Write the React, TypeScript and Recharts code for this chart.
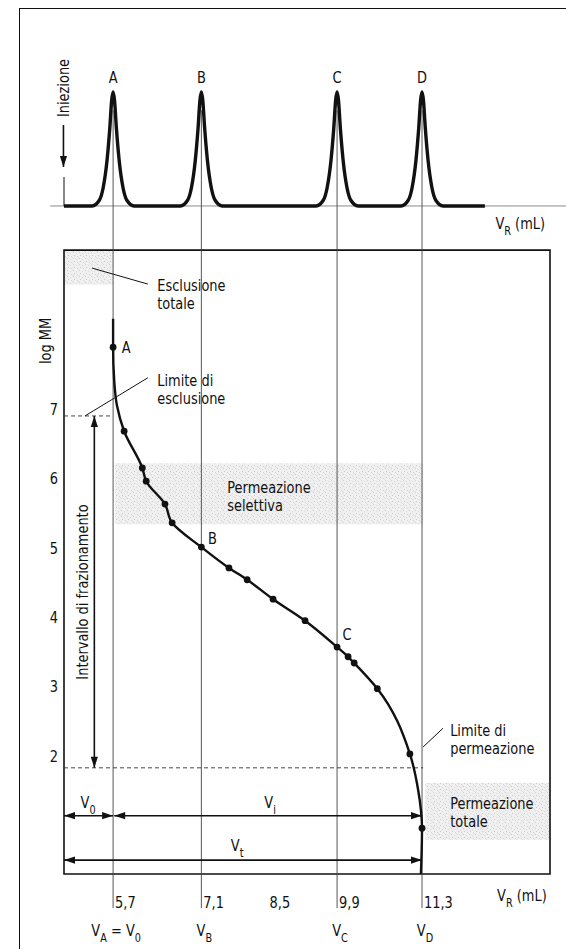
import React from 'react';
import {
  ComposedChart,
  Line,
  XAxis,
  YAxis,
  ReferenceLine,
  ReferenceArea,
  ReferenceDot,
  LabelList,
} from 'recharts';

const FONT = "'Liberation Sans Narrow', 'Arial Narrow', 'DejaVu Sans Condensed', sans-serif";
const INK = '#111';
const FS = 16;
const SQUEEZE = 0.9; // il carattere originale e' un sans condensato

// domini degli assi: V_R (mL), log MM, segnale del cromatogramma
const X_DOMAIN = [4.81, 13.62];
const LOG_DOMAIN = [0.3, 12];
const SIG_DOMAIN = [-5.86, 1.263];
const FRAME_TOP = 9.29;

// asse x
const xTicks = [5.7, 7.3, 8.5, 9.76, 11.3];
const xTickLabels = ['5,7', '7,1', '8,5', '9,9', '11,3'];
const xSubLabels = ['V_A = V_0', 'V_B', '', 'V_C', 'V_D'];
const yTicks = [2, 3, 4, 5, 6, 7];

// cromatogramma (picchi A-D)
const peakNames = ['A', 'B', 'C', 'D'];
const peakVR = [5.7, 7.3, 9.76, 11.3];
const peakOffset = [-0.38, -0.25, -0.18, -0.11, -0.06, -0.025, 0, 0.025, 0.06, 0.11, 0.18, 0.25, 0.38];
const peakHeight = [0, 0.05, 0.16, 0.4, 0.68, 0.93, 1, 0.93, 0.68, 0.4, 0.16, 0.05, 0];
const injectionVR = 4.81;
const chromEndVR = 12.44;

// curva di taratura log MM vs V_R
const curveVR = [5.7, 5.7, 5.72, 5.77, 5.9, 6.23, 6.3, 6.64, 6.77, 7.3, 7.8, 8.13, 8.6, 9.18, 9.76, 9.96, 10.07, 10.49, 11.08, 11.23, 11.3, 11.28];
const curveLogMM = [8.3, 7.89, 7.41, 7.05, 6.68, 6.15, 5.96, 5.63, 5.36, 5.01, 4.71, 4.54, 4.26, 3.95, 3.57, 3.43, 3.34, 2.97, 2.03, 1.51, 0.96, 0.3];

// punti sperimentali
const pointVR = [5.7, 5.9, 6.23, 6.3, 6.64, 6.77, 7.3, 7.8, 8.13, 8.6, 9.18, 9.76, 9.96, 10.07, 10.49, 11.08, 11.3];
const pointLogMM = [7.89, 6.68, 6.15, 5.96, 5.63, 5.36, 5.01, 4.71, 4.54, 4.26, 3.95, 3.57, 3.43, 3.34, 2.97, 2.03, 0.96];
const pointNames = ['A', '', '', '', '', '', 'B', '', '', '', '', 'C', '', '', '', '', ''];

// limiti
const exclusionLimit = 6.9;
const permeationLimit = 1.83;

const chromData: { x: number; s: number }[] = [{ x: injectionVR, s: 0 }];
peakVR.forEach(c => {
  peakOffset.forEach((o, i) => chromData.push({ x: +(c + o).toFixed(3), s: peakHeight[i] }));
});
chromData.push({ x: chromEndVR, s: 0 });

const curveData = curveVR.map((x, i) => ({ x, m: curveLogMM[i] }));
const pointData = pointVR.map((x, i) => ({ x, m: pointLogMM[i], name: pointNames[i] }));

// testo con pedici: "V_A" -> V + pedice A
const RichText = ({ x, y, text, size = FS, anchor = 'start', rotate = 0 }: any) => {
  const parts: { t: string; sub: boolean }[] = [];
  for (let i = 0; i < text.length; i++) {
    if (text[i] === '_' && i + 1 < text.length) {
      parts.push({ t: text[i + 1], sub: true });
      i++;
    } else if (parts.length && !parts[parts.length - 1].sub) {
      parts[parts.length - 1].t += text[i];
    } else {
      parts.push({ t: text[i], sub: false });
    }
  }
  let inSub = false;
  return (
    <g transform={`translate(${x}, ${y}) rotate(${rotate}) scale(${SQUEEZE}, 1)`}>
      <text x={0} y={size * 0.36} textAnchor={anchor} fontFamily={FONT} fontSize={size} fill={INK}>
        {parts.map((p, i) => {
          let dy: number | undefined;
          if (p.sub && !inSub) dy = 6;
          if (!p.sub && inSub) dy = -6;
          inSub = p.sub;
          return (
            <tspan key={i} dy={dy} fontSize={p.sub ? size - 4 : size}>
              {p.t}
            </tspan>
          );
        })}
      </text>
    </g>
  );
};

const note = (key: string, x: number, y: number, axis: string, lines: string[], opts: any = {}) => (
  <ReferenceDot
    key={key}
    x={x}
    y={y}
    yAxisId={axis}
    r={0}
    ifOverflow="visible"
    shape={(p: any) => (
      <g>
        {lines.map((l, i) => (
          <RichText key={i} x={p.cx} y={p.cy + i * 18} text={l} {...opts} />
        ))}
      </g>
    )}
  />
);

const arrowShape = (start: boolean, end: boolean) => (p: any) => {
  const { x1, y1, x2, y2 } = p;
  const a = Math.atan2(y2 - y1, x2 - x1);
  const head = (x: number, y: number, ang: number) => {
    const L = 11;
    const W = 3.6;
    const bx = x - L * Math.cos(ang);
    const by = y - L * Math.sin(ang);
    const pts = `${x},${y} ${bx + W * Math.sin(ang)},${by - W * Math.cos(ang)} ${bx - W * Math.sin(ang)},${by + W * Math.cos(ang)}`;
    return <polygon points={pts} fill={INK} />;
  };
  return (
    <g>
      <line x1={x1} y1={y1} x2={x2} y2={y2} stroke={INK} strokeWidth={1.6} />
      {start && head(x1, y1, a + Math.PI)}
      {end && head(x2, y2, a)}
    </g>
  );
};

const XTick = (props: any) => {
  const { x, y, payload } = props;
  const i = xTicks.indexOf(payload.value);
  return (
    <g>
      <RichText x={x + 2} y={y + 20} text={xTickLabels[i]} />
      {xSubLabels[i] && <RichText x={x + 3} y={y + 48} text={xSubLabels[i]} anchor="middle" />}
    </g>
  );
};

const YTick = (props: any) => {
  const { x, y, payload } = props;
  return <RichText x={x + 2} y={y} text={String(payload.value)} anchor="end" />;
};

const PointLabel = (props: any) => {
  const { x, y, value } = props;
  if (!value) return null;
  const off: any = { A: [13, 0], B: [11, -9], C: [10, -13] };
  const [dx, dy] = off[value] || [10, -8];
  return <RichText x={x + dx} y={y + dy} text={value} anchor="middle" />;
};

const leader = { stroke: INK, strokeWidth: 1, ifOverflow: 'visible' as const, yAxisId: 'mm' };

export default function App() {
  return (
    <div style={{ position: 'absolute', left: 0, top: 0, width: 566, height: 949, overflow: 'hidden', background: '#fff' }}>
      <div
        style={{
          position: 'absolute',
          left: 19,
          top: 8,
          width: 700,
          height: 1100,
          borderLeft: `1.5px solid ${INK}`,
          borderTop: `1.5px solid ${INK}`,
        }}
      />
      <div style={{ position: 'absolute', left: 0, top: 0 }}>
        <ComposedChart width={566} height={949} margin={{ top: 62, right: 16, bottom: 0, left: 0 }}>
          <defs>
            <pattern id="grain" width="6" height="6" patternUnits="userSpaceOnUse">
              <rect width="6" height="6" fill="#e0e0e0" />
              <rect x="1" y="0" width="1" height="1" fill="#a4a4a4" />
              <rect x="4" y="1" width="1" height="1" fill="#bababa" />
              <rect x="2" y="3" width="1" height="1" fill="#989898" />
              <rect x="5" y="4" width="1" height="1" fill="#b0b0b0" />
              <rect x="0" y="5" width="1" height="1" fill="#c2c2c2" />
              <rect x="3" y="5" width="1" height="1" fill="#f4f4f4" />
            </pattern>
          </defs>
          <XAxis
            type="number"
            dataKey="x"
            domain={X_DOMAIN}
            ticks={xTicks}
            interval={0}
            allowDataOverflow
            axisLine={false}
            tickLine={false}
            height={75}
            tick={<XTick />}
          />
          <YAxis
            yAxisId="mm"
            type="number"
            domain={LOG_DOMAIN}
            ticks={yTicks}
            allowDataOverflow
            width={64}
            axisLine={false}
            tickLine={false}
            tick={<YTick />}
          />
          <YAxis yAxisId="sig" orientation="right" type="number" domain={SIG_DOMAIN} allowDataOverflow hide />

          {/* zone ombreggiate */}
          <ReferenceArea yAxisId="mm" x1={X_DOMAIN[0]} x2={5.7} y1={8.79} y2={FRAME_TOP} fill="url(#grain)" stroke="none" ifOverflow="visible" />
          <ReferenceArea yAxisId="mm" x1={5.74} x2={11.32} y1={5.34} y2={6.22} fill="url(#grain)" stroke="none" ifOverflow="visible" />
          <ReferenceArea yAxisId="mm" x1={11.36} x2={X_DOMAIN[1]} y1={0.79} y2={1.61} fill="url(#grain)" stroke="none" ifOverflow="visible" />

          {/* cornice del grafico inferiore */}
          <ReferenceArea yAxisId="mm" x1={X_DOMAIN[0]} x2={X_DOMAIN[1]} y1={LOG_DOMAIN[0]} y2={FRAME_TOP} fill="none" stroke={INK} strokeWidth={1.6} ifOverflow="visible" />

          {/* linea di base del cromatogramma */}
          <ReferenceLine yAxisId="sig" segment={[{ x: 4.56, y: 0 }, { x: 13.91, y: 0 }]} stroke="#8a8a8a" strokeWidth={1} ifOverflow="visible" />

          {/* verticali dei picchi */}
          {peakVR.map((v, i) => (
            <ReferenceLine
              key={'v' + i}
              yAxisId="sig"
              segment={[{ x: v, y: 0.84 }, { x: v, y: -6.16 }]}
              stroke="#444"
              strokeWidth={0.9}
              ifOverflow="visible"
            />
          ))}

          {/* limiti tratteggiati */}
          <ReferenceLine yAxisId="mm" segment={[{ x: X_DOMAIN[0], y: exclusionLimit }, { x: 5.7, y: exclusionLimit }]} stroke="#333" strokeDasharray="4 3" strokeWidth={0.9} ifOverflow="visible" />
          <ReferenceLine yAxisId="mm" segment={[{ x: X_DOMAIN[0], y: permeationLimit }, { x: 11.32, y: permeationLimit }]} stroke="#333" strokeDasharray="4 3" strokeWidth={0.9} ifOverflow="visible" />

          {/* iniezione */}
          <ReferenceLine yAxisId="sig" segment={[{ x: injectionVR, y: 0 }, { x: injectionVR, y: 0.254 }]} stroke={INK} strokeWidth={1} ifOverflow="visible" />
          <ReferenceLine yAxisId="sig" segment={[{ x: 4.8, y: 0.71 }, { x: 4.8, y: 0.342 }]} ifOverflow="visible" shape={arrowShape(false, true)} />

          {/* frecce V0, Vi, Vt e intervallo di frazionamento */}
          <ReferenceLine yAxisId="mm" segment={[{ x: X_DOMAIN[0], y: 1.14 }, { x: 5.7, y: 1.14 }]} ifOverflow="visible" shape={arrowShape(true, true)} />
          <ReferenceLine yAxisId="mm" segment={[{ x: 5.72, y: 1.14 }, { x: 11.3, y: 1.14 }]} ifOverflow="visible" shape={arrowShape(true, true)} />
          <ReferenceLine yAxisId="mm" segment={[{ x: X_DOMAIN[0], y: 0.5 }, { x: 11.3, y: 0.5 }]} ifOverflow="visible" shape={arrowShape(true, true)} />
          <ReferenceLine yAxisId="mm" segment={[{ x: 5.36, y: exclusionLimit }, { x: 5.36, y: permeationLimit }]} ifOverflow="visible" shape={arrowShape(true, true)} />

          {/* linee di richiamo */}
          <ReferenceLine {...leader} segment={[{ x: 5.32, y: 9.03 }, { x: 6.33, y: 8.8 }]} />
          <ReferenceLine {...leader} segment={[{ x: 5.19, y: 6.9 }, { x: 6.33, y: 7.45 }]} />
          <ReferenceLine {...leader} segment={[{ x: 11.32, y: 2.13 }, { x: 11.68, y: 2.4 }]} />

          <Line
            data={chromData}
            dataKey="s"
            yAxisId="sig"
            type="monotone"
            stroke={INK}
            strokeWidth={3.4}
            dot={false}
            isAnimationActive={false}
          />
          <Line
            data={curveData}
            dataKey="m"
            yAxisId="mm"
            type="monotoneY"
            stroke={INK}
            strokeWidth={2.4}
            dot={false}
            isAnimationActive={false}
          />
          <Line
            data={pointData}
            dataKey="m"
            yAxisId="mm"
            stroke="none"
            dot={{ r: 3.4, fill: INK, stroke: 'none' }}
            isAnimationActive={false}
          >
            <LabelList dataKey="name" content={<PointLabel />} />
          </Line>

          {/* etichette */}
          {peakVR.map((v, i) => note('p' + i, v, 1.13, 'sig', [peakNames[i]], { anchor: 'middle' }))}
          {note('inj', 4.794, 1.035, 'sig', ['Iniezione'], { anchor: 'middle', rotate: -90 })}
          {note('vr1', 12.63, -0.149, 'sig', ['V_R (mL)'])}
          {note('vr2', 12.66, 0.0, 'mm', ['V_R (mL)'])}
          {note('logmm', 4.467, 7.98, 'mm', ['log MM'], { anchor: 'middle', rotate: -90 })}
          {note('interv', 5.138, 4.363, 'mm', ['Intervallo di frazionamento'], { anchor: 'middle', rotate: -90 })}
          {note('escl', 6.5, 8.79, 'mm', ['Esclusione', 'totale'])}
          {note('limesc', 6.5, 7.42, 'mm', ['Limite di', 'esclusione'])}
          {note('psel', 7.77, 5.88, 'mm', ['Permeazione', 'selettiva'])}
          {note('limperm', 11.81, 2.375, 'mm', ['Limite di', 'permeazione'])}
          {note('ptot', 11.81, 1.323, 'mm', ['Permeazione', 'totale'])}
          {note('v0', 5.247, 1.337, 'mm', ['V_0'], { anchor: 'middle' })}
          {note('vi', 8.546, 1.337, 'mm', ['V_i'], { anchor: 'middle' })}
          {note('vt', 7.948, 0.718, 'mm', ['V_t'], { anchor: 'middle' })}
        </ComposedChart>
      </div>
    </div>
  );
}
